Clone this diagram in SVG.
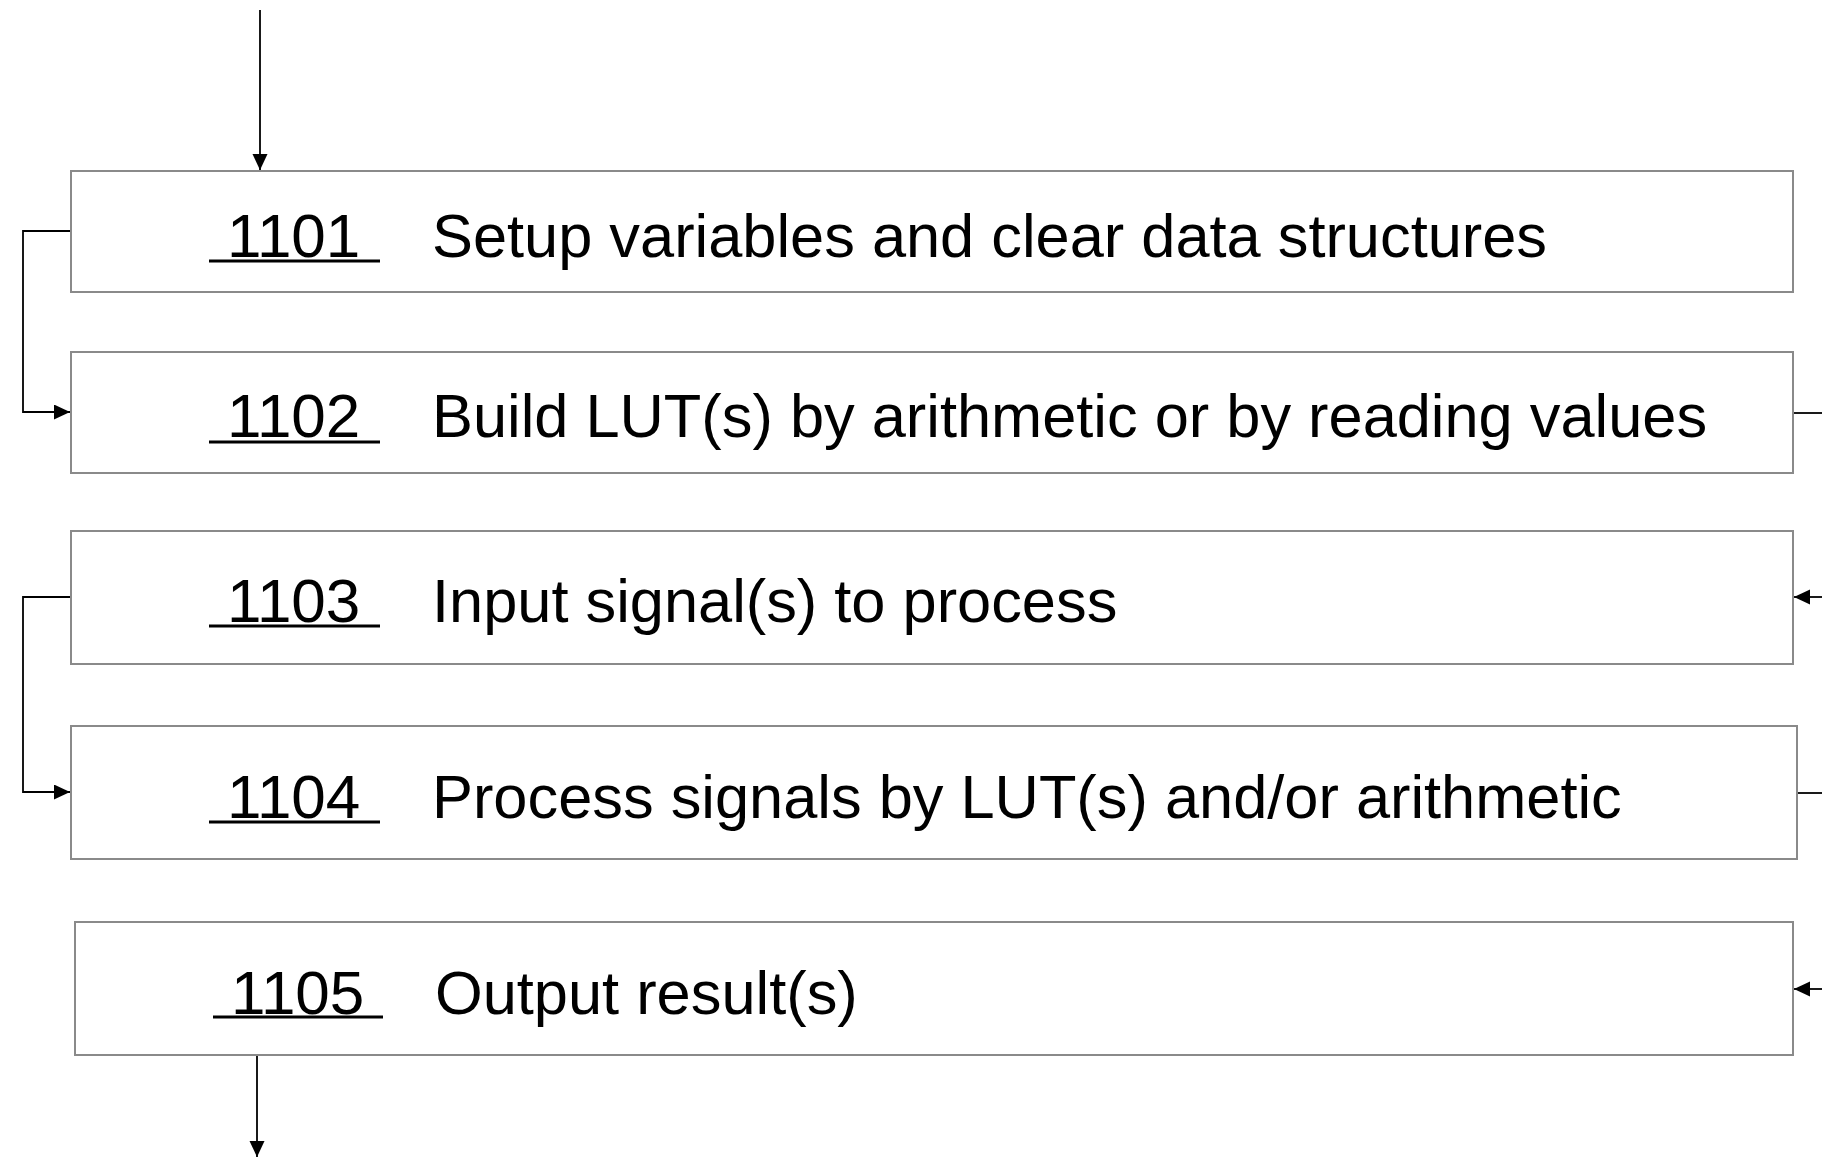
<svg xmlns="http://www.w3.org/2000/svg" width="1822" height="1159" viewBox="0 0 1822 1159">
<style>
.box{fill:#fff;stroke:#8a8a8a;stroke-width:2}
.num{font-family:"Liberation Sans",Arial,sans-serif;font-size:62px;fill:#000}
.lbl{font-family:"Liberation Sans",Arial,sans-serif;font-size:61.35px;fill:#000}
.ul{stroke:#000;stroke-width:3}
.con{fill:none;stroke:#000;stroke-width:1.8}
</style>
<defs>
<marker id="ah" markerUnits="userSpaceOnUse" markerWidth="17" markerHeight="16" refX="16" refY="7.5" orient="auto">
<path d="M0,0 L16,7.5 L0,15 z" fill="#000"/>
</marker>
</defs>
<rect width="1822" height="1159" fill="#fff"/>
<g id="connectors">
<line class="con" x1="260" y1="10" x2="260" y2="170" marker-end="url(#ah)"/>
<polyline class="con" points="71,231 23,231 23,412 70,412" marker-end="url(#ah)"/>
<line class="con" x1="1793" y1="413" x2="1822" y2="413"/>
<line class="con" x1="1822" y1="597" x2="1794" y2="597" marker-end="url(#ah)"/>
<polyline class="con" points="71,597 23,597 23,792 70,792" marker-end="url(#ah)"/>
<line class="con" x1="1797" y1="793" x2="1822" y2="793"/>
<line class="con" x1="1822" y1="989" x2="1794" y2="989" marker-end="url(#ah)"/>
<line class="con" x1="257" y1="1055" x2="257" y2="1157" marker-end="url(#ah)"/>
</g>
<g id="n1101">
<rect class="box" x="71" y="171" width="1722" height="121"/>
<text class="num" x="227" y="257">1101</text>
<line class="ul" x1="209" y1="261" x2="380" y2="261"/>
<text class="lbl" x="432" y="257">Setup variables and clear data structures</text>
</g>
<g id="n1102">
<rect class="box" x="71" y="352" width="1722" height="121"/>
<text class="num" x="227" y="437">1102</text>
<line class="ul" x1="209" y1="442" x2="380" y2="442"/>
<text class="lbl" x="432" y="437">Build LUT(s) by arithmetic or by reading values</text>
</g>
<g id="n1103">
<rect class="box" x="71" y="531" width="1722" height="133"/>
<text class="num" x="227" y="622">1103</text>
<line class="ul" x1="209" y1="626" x2="380" y2="626"/>
<text class="lbl" x="432" y="622">Input signal(s) to process</text>
</g>
<g id="n1104">
<rect class="box" x="71" y="726" width="1726" height="133"/>
<text class="num" x="227" y="818">1104</text>
<line class="ul" x1="209" y1="822" x2="380" y2="822"/>
<text class="lbl" x="432" y="818">Process signals by LUT(s) and/or arithmetic</text>
</g>
<g id="n1105">
<rect class="box" x="75" y="922" width="1718" height="133"/>
<text class="num" x="231" y="1014">1105</text>
<line class="ul" x1="213" y1="1017" x2="383" y2="1017"/>
<text class="lbl" x="435" y="1014">Output result(s)</text>
</g>
</svg>
